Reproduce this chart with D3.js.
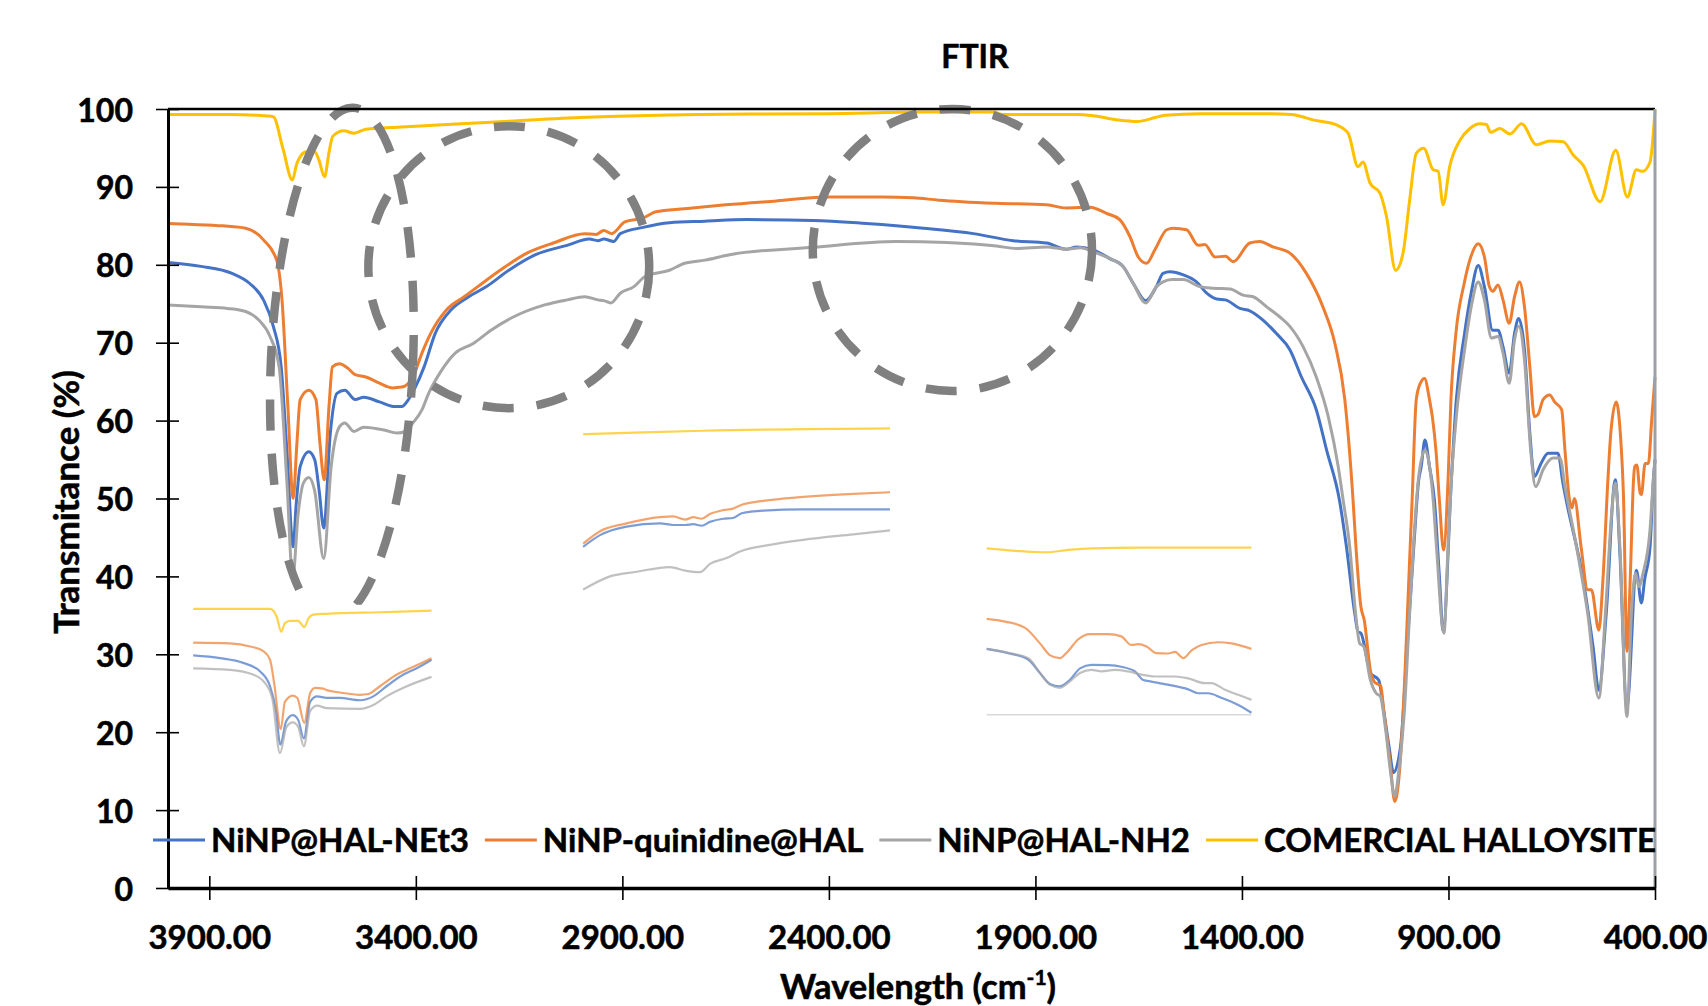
<!DOCTYPE html>
<html>
<head>
<meta charset="utf-8">
<title>FTIR</title>
<script src="https://d3js.org/d3.v7.min.js"></script>
<style>
  body { margin: 0; background: #fff; }
  svg { display: block; font-family: Lato, "Open Sans", sans-serif; font-weight: 700; }
  svg text { stroke: #000; stroke-width: 0.55px; paint-order: stroke; }
</style>
</head>
<body>
<svg id="chart" width="1708" height="1006"></svg>
<script>
"use strict";

//Series names and colours, in the legend order
var seriesNames = ["NiNP@HAL-NEt3", "NiNP-quinidine@HAL", "NiNP@HAL-NH2", "COMERCIAL HALLOYSITE"];
var seriesColors = ["#4472C4", "#ED7D31", "#A5A5A5", "#FFC000"];

//Tick values of both axes
var xTicks = [3900, 3400, 2900, 2400, 1900, 1400, 900, 400];
var yTicks = [0, 10, 20, 30, 40, 50, 60, 70, 80, 90, 100];

//Spectra: [wavenumber, transmittance %]
var net3Data = [[4000,80.3],[3920,79.8],[3845,78.9],[3802,77.6],[3769,75.5],[3745,72.1],[3726,66.9],[3712,56],[3697,43.8],[3690,49],[3680,54.1],[3659,56.0],[3645,55.0],[3634,51],[3623,46.2],[3607,58.4],[3591,63.5],[3572,63.9],[3547,62.7],[3526,63.0],[3488,62.4],[3450,61.8],[3434,61.8],[3418,62.7],[3402,64.2],[3380,66.9],[3353,71.2],[3315,74.2],[3272,75.9],[3229,77.2],[3175,79.3],[3110,81.3],[3034,82.5],[2980,83.3],[2959,83.1],[2945,83.3],[2921,83.0],[2905,84.0],[2850,84.8],[2786,85.4],[2700,85.6],[2599,85.8],[2438,85.7],[2309,85.3],[2171,84.7],[2050,84.0],[1954,83.1],[1873,82.8],[1825,82.0],[1800,82.3],[1760,81.9],[1720,80.8],[1688,79.8],[1663,77.6],[1633,75.4],[1607,77.2],[1591,78.9],[1574,79.1],[1542,78.7],[1510,77.8],[1486,76.4],[1461,75.6],[1440,75.5],[1405,74.4],[1381,74.1],[1349,72.9],[1317,71.2],[1284,69.1],[1256,65.6],[1220,61.4],[1195,56.2],[1164,49.8],[1147,43.8],[1127,35.3],[1119,32.9],[1112,32.7],[1089,27.6],[1069,26.7],[1056,22.5],[1044,18.2],[1033,14.8],[1016,18.2],[1000,31.0],[984,43.8],[972,52.4],[966,54.1],[957,57.5],[946,54.1],[934,49.8],[922,40],[913,32.9],[893,52.4],[881,62.7],[861,71.2],[845,76.4],[828,79.9],[813,77.2],[793,71.6],[780,71.6],[768,69.5],[753,66.1],[740,71.2],[730,73.1],[716,69.1],[703,58.4],[692,52.8],[676,54.5],[659,55.8],[635,55.8],[623,52.0],[615,49.8],[574,39.6],[550,31.0],[536,25.4],[518,35.3],[496,52.4],[485,43],[468,23.3],[445,40.8],[433,36.6],[425,39.6],[412,43.8],[404,52.4],[400,55]];

var quinData = [[4000,85.3],[3950,85.2],[3867,85.0],[3812,84.7],[3769,83.2],[3737,80.6],[3724,75.5],[3710,62],[3697,50.0],[3688,57],[3680,62.7],[3659,63.9],[3642,62.7],[3632,57],[3622,52.4],[3610,62],[3602,66.9],[3585,67.3],[3564,66.7],[3547,65.9],[3521,65.6],[3488,64.8],[3456,64.2],[3434,64.3],[3407,65.6],[3385,68.7],[3364,71.2],[3326,74.2],[3283,75.9],[3250,77.2],[3196,79.3],[3131,81.5],[3067,82.8],[2991,84.0],[2964,83.9],[2945,84.4],[2926,84.0],[2894,85.5],[2850,86.0],[2819,86.8],[2749,87.2],[2650,87.7],[2527,88.2],[2398,88.7],[2270,88.7],[2196,88.6],[2134,88.3],[1994,87.9],[1873,87.7],[1825,87.3],[1768,87.4],[1728,86.6],[1696,85.8],[1671,83.6],[1651,81.0],[1631,80.2],[1611,81.9],[1582,84.5],[1566,84.7],[1534,84.5],[1506,82.5],[1490,82.6],[1465,81.0],[1440,81.1],[1421,80.4],[1381,82.8],[1357,83.0],[1325,82.3],[1284,81.5],[1244,78.9],[1204,74.6],[1175,69.9],[1151,62.7],[1131,49.8],[1124,43.8],[1112,36.1],[1104,34.4],[1088,27.6],[1080,26.5],[1064,25.9],[1056,22.5],[1041,16.0],[1030,11.1],[1017,16.0],[1006,26.7],[996,39.6],[988,49.8],[978,62.7],[968,64.8],[958,65.4],[946,62.7],[938,60.1],[930,56],[922,49.8],[912,43.4],[901,52.4],[894,62.7],[882,71.2],[862,77.6],[846,81.0],[828,82.7],[813,81.0],[801,77.2],[793,76.6],[780,77.4],[768,75.5],[753,72.5],[740,75.9],[728,77.8],[716,74.6],[703,66.9],[692,60.5],[683,60.8],[671,62.7],[655,63.3],[643,62.4],[626,61.4],[618,56.2],[607,49.8],[601,48.8],[595,50.0],[579,43.8],[563,38.3],[554,38.3],[536,33.1],[526,39.6],[514,52.4],[507,58.4],[494,62.4],[484,58.4],[476,49.8],[468,30.4],[460,39.6],[452,52.4],[449,54.1],[444,54.3],[436,50.7],[433,50.5],[424,54.5],[416,54.5],[408,60.1],[400,65.6]];

var nh2Data = [[4000,74.85],[3920,74.6],[3856,74.4],[3812,74.0],[3780,72.9],[3753,70.8],[3731,66.9],[3712,52],[3698,39.8],[3685,48],[3672,52],[3659,52.7],[3645,51],[3623,42.3],[3605,54.1],[3585,59.2],[3572,59.7],[3550,58.6],[3526,59.15],[3477,58.8],[3445,58.4],[3425,58.6],[3407,59.7],[3385,61.4],[3369,63.5],[3342,66.1],[3304,68.7],[3261,69.9],[3218,71.6],[3164,73.3],[3088,74.85],[3034,75.5],[2991,75.9],[2959,75.5],[2945,75.4],[2928,75.1],[2905,76.35],[2872,77.2],[2845,78.5],[2786,79.3],[2749,80.2],[2700,80.6],[2640,81.3],[2438,82.25],[2236,83.0],[2115,82.85],[1994,82.4],[1946,82.1],[1873,82.3],[1825,82.0],[1792,82.2],[1752,81.5],[1712,80.6],[1688,79.8],[1663,77.6],[1633,75.1],[1607,77.2],[1591,77.8],[1570,78.1],[1542,78.1],[1502,77.2],[1470,77.0],[1429,76.9],[1397,76.1],[1373,75.9],[1340,74.6],[1308,73.3],[1284,72.1],[1252,69.5],[1220,65.6],[1191,60.5],[1167,54.1],[1155,49.8],[1139,43.8],[1125,35.3],[1115,31.4],[1105,31.0],[1089,26.7],[1075,25.0],[1065,24.6],[1052,20.3],[1041,15.2],[1030,11.75],[1020,15.2],[1007,22.5],[994,35.3],[973,52.4],[957,56.2],[937,49.8],[929,43.8],[911,32.7],[901,43.8],[893,52.4],[881,60.5],[861,69.1],[845,74.6],[828,77.8],[813,75.5],[796,70.6],[780,70.8],[768,68.7],[753,64.8],[740,70.4],[730,72.1],[716,67.8],[701,56.2],[689,51.5],[671,53.7],[647,55.2],[630,55.2],[618,51.5],[590,43.8],[563,35.3],[536,24.4],[520,35.3],[505,48.1],[496,52.0],[485,43.8],[468,22.0],[457,35.3],[447,40.4],[439,38.7],[429,40.4],[412,46.0],[404,52.4],[400,55]];

var halData = [[4000,99.3],[3850,99.3],[3760,99.1],[3745,99.0],[3722,95],[3699,90.9],[3688,93],[3677,94.1],[3665,94.5],[3645,94.5],[3635,93.5],[3621,91.3],[3610,94.5],[3601,96.5],[3574,97.2],[3550,96.9],[3521,97.4],[3434,97.7],[3218,98.3],[3003,98.9],[2712,99.3],[2400,99.4],[2168,99.6],[2000,99.6],[1980,99.3],[1800,99.3],[1756,99.1],[1700,98.6],[1654,98.4],[1610,98.9],[1586,99.2],[1500,99.4],[1350,99.4],[1280,99.3],[1268,99.2],[1228,98.6],[1171,97.95],[1143,96.9],[1119,92.6],[1107,93.2],[1090,90.5],[1066,89.2],[1050,86.2],[1028,79.3],[1010,81.5],[994,88.3],[978,94.3],[960,94.96],[937,92.2],[925,92.0],[913,87.7],[897,92.6],[872,96.0],[848,97.5],[824,98.1],[808,98.0],[798,97.0],[776,97.5],[751,96.8],[723,98.1],[687,95.4],[655,95.9],[622,95.8],[598,94.1],[574,92.8],[533,88.1],[495,94.7],[467,88.7],[445,92.2],[430,92.0],[412,93.2],[400,99.9]];

//Pasted close-up copies, read in the units of the main axes
//Close-up A: O-H region
var net3InsetA = [[3939,29.85],[3874,29.5],[3818,28.9],[3777,27.8],[3753,25.9],[3739,22.9],[3728,18.4],[3714,21.4],[3698,22.2],[3685,21.6],[3671,19.2],[3656,23.9],[3639,24.6],[3616,24.4],[3584,24.4],[3535,24.1],[3503,24.6],[3471,25.9],[3430,27.4],[3398,28.2],[3362,29.3]];
var quinInsetA = [[3939,31.5],[3850,31.4],[3801,31.0],[3769,30.4],[3753,29.3],[3743,26.3],[3727,20.4],[3717,23.9],[3698,24.7],[3687,24.4],[3670,21.2],[3656,25.0],[3644,25.7],[3624,25.6],[3616,25.4],[3584,25.1],[3535,24.8],[3515,24.9],[3487,25.9],[3446,27.4],[3414,28.2],[3362,29.5]];
var nh2InsetA = [[3939,28.2],[3850,28.0],[3794,27.4],[3765,26.3],[3747,24.2],[3729,17.3],[3713,20.7],[3698,21.25],[3685,20.7],[3671,18.2],[3656,22.7],[3639,23.4],[3616,23.1],[3535,23.0],[3503,23.5],[3471,24.6],[3430,25.7],[3362,27.1]];
var halInsetA = [[3939,35.84],[3753,35.84],[3737,34.85],[3726,32.9],[3717,34.0],[3705,34.3],[3685,34.3],[3670,33.5],[3660,34.6],[3648,35.1],[3616,35.2],[3487,35.4],[3362,35.6]];

//Close-up B: C-H region
var net3InsetB = [[2995,43.8],[2954,45.3],[2890,46.4],[2809,46.8],[2777,46.6],[2748,46.6],[2728,46.7],[2708,46.5],[2688,47.0],[2656,47.4],[2632,47.5],[2611,48.1],[2559,48.45],[2462,48.6],[2252,48.6]];
var quinInsetB = [[2995,44.2],[2954,45.8],[2890,46.8],[2809,47.6],[2777,47.7],[2748,47.3],[2728,47.6],[2708,47.4],[2688,48.0],[2656,48.5],[2632,48.7],[2611,49.2],[2559,49.7],[2462,50.2],[2341,50.6],[2252,50.8]];
var nh2InsetB = [[2995,38.3],[2930,40.0],[2865,40.6],[2785,41.2],[2748,40.75],[2712,40.55],[2688,41.6],[2648,42.35],[2615,43.2],[2543,44.05],[2462,44.7],[2341,45.4],[2252,45.9]];
var halInsetB = [[2995,58.25],[2850,58.5],[2704,58.7],[2252,59.0]];

//Close-up C: 2000-1400 region
var net3InsetC = [[2018,30.7],[1966,30.15],[1917,29.3],[1889,27.6],[1865,26.2],[1841,25.9],[1817,26.7],[1792,28.2],[1764,28.65],[1724,28.6],[1692,28.4],[1659,27.8],[1639,26.7],[1619,26.5],[1579,26.1],[1530,25.5],[1506,25.0],[1482,25.0],[1449,24.4],[1409,23.5],[1377,22.5]];
var quinInsetC = [[2018,34.55],[1974,34.2],[1925,33.4],[1889,31.4],[1865,29.9],[1841,29.5],[1821,30.4],[1797,31.9],[1768,32.6],[1724,32.6],[1692,32.3],[1668,31.2],[1651,31.3],[1631,31.0],[1607,30.15],[1579,30.1],[1562,30.3],[1542,29.5],[1522,30.5],[1498,31.2],[1458,31.55],[1425,31.4],[1377,30.7]];
var nh2InsetC = [[2018,30.7],[1966,30.2],[1917,29.5],[1889,27.6],[1865,26.1],[1841,25.7],[1817,26.5],[1792,27.6],[1764,28.0],[1740,27.8],[1708,28.0],[1676,27.8],[1643,27.4],[1611,27.15],[1562,27.15],[1530,26.9],[1490,26.3],[1474,26.3],[1441,25.45],[1409,24.8],[1377,24.15]];
var halInsetC = [[2018,43.6],[1925,43.2],[1873,43.1],[1821,43.4],[1764,43.6],[1643,43.7],[1377,43.7]];
var baseInsetC = [[2018,22.25],[1377,22.25]];

//Dashed ellipses marking the regions: centre, half sizes in axis units, tilt
var ringWn = [3579, 3175, 2101];
var ringT = [67.3, 79.7, 81.9];
var ringHalfWn = [172, 340, 338];
var ringHalfT = [32.9, 18.1, 18.1];
var ringTilt = [2.5, 0, 0];

var mainSeries = [net3Data, quinData, nh2Data, halData];
var insets = [
	[net3InsetA, quinInsetA, nh2InsetA, halInsetA],
	[net3InsetB, quinInsetB, nh2InsetB, halInsetB],
	[net3InsetC, quinInsetC, nh2InsetC, halInsetC]
];

var svg = d3.select("#chart"),
    plotLeft = 168, plotRight = 1655, plotTop = 109, plotBottom = 888;

var x = d3.scaleLinear().domain([4000, 400]).range([plotLeft, plotRight]);
var y = d3.scaleLinear().domain([0, 100]).range([plotBottom, plotTop]);

var line = d3.line()
	.x(function(d) { return x(d[0]); })
	.y(function(d) { return y(d[1]); })
	.curve(d3.curveMonotoneX);

//Main spectra
svg.append("g")
	.selectAll("path")
	.data(mainSeries)
	.enter().append("path")
	  .attr("d", line)
	  .attr("fill", "none")
	  .attr("stroke", function(d, i) { return seriesColors[i]; })
	  .attr("stroke-width", 3)
	  .attr("stroke-linejoin", "round");

//Dashed ellipses
svg.append("g")
	.selectAll("ellipse")
	.data(ringWn)
	.enter().append("ellipse")
	  .attr("cx", function(d) { return x(d); })
	  .attr("cy", function(d, i) { return y(ringT[i]); })
	  .attr("rx", function(d, i) { return Math.abs(x(d + ringHalfWn[i]) - x(d)); })
	  .attr("ry", function(d, i) { return Math.abs(y(ringT[i] + ringHalfT[i]) - y(ringT[i])); })
	  .attr("transform", function(d, i) {
		  return "rotate(" + ringTilt[i] + "," + x(d) + "," + y(ringT[i]) + ")";
	  })
	  .attr("fill", "none")
	  .attr("stroke", "#808080")
	  .attr("stroke-width", 8.5)
	  .attr("stroke-dasharray", "31 23");

//Close-ups, each on a white patch
insets.forEach(function(set, k) {
	var all = [].concat.apply([], set);
	var xs = d3.extent(all, function(d) { return x(d[0]); });
	var ys = d3.extent(all, function(d) { return y(d[1]); });
	var g = svg.append("g");
	g.append("rect")
		.attr("x", xs[0] - 4).attr("y", ys[0] - 4)
		.attr("width", xs[1] - xs[0] + 8).attr("height", ys[1] - ys[0] + 10)
		.attr("fill", "#fff");
	if (k == 2) {
		g.append("path")
			.attr("d", line(baseInsetC))
			.attr("fill", "none")
			.attr("stroke", "#d9d9d9")
			.attr("stroke-width", 1.5);
	}
	g.selectAll("path.s")
		.data(set)
		.enter().append("path")
		  .attr("class", "s")
		  .attr("d", line)
		  .attr("fill", "none")
		  .attr("stroke", function(d, i) { return seriesColors[i]; })
		  .attr("stroke-opacity", 0.7)
		  .attr("stroke-width", 2.2);
});

//Frame: black top, grey right
svg.append("line")
	.attr("x1", x(4000)).attr("x2", x(400))
	.attr("y1", y(100)).attr("y2", y(100))
	.attr("stroke", "#000").attr("stroke-width", 2.5);
svg.append("line")
	.attr("x1", x(400)).attr("x2", x(400))
	.attr("y1", y(100)).attr("y2", y(0))
	.attr("stroke", "#9ba1a6").attr("stroke-width", 3);

//y axis
var yAxis = svg.append("g")
	.attr("transform", "translate(" + plotLeft + ",0)")
	.call(d3.axisLeft(y).tickValues(yTicks).tickSizeOuter(0).tickSizeInner(12).tickPadding(23));
yAxis.select(".domain").attr("stroke-width", 3);
yAxis.selectAll(".tick line").attr("x1", 11).attr("x2", -12).attr("stroke-width", 1.6);
yAxis.selectAll(".tick text")
	.attr("dy", 12)
	.attr("font-size", 32)
	.attr("font-family", "Lato")
	.attr("font-weight", 700);

//x axis
var xAxis = svg.append("g")
	.attr("transform", "translate(0," + plotBottom + ")")
	.call(d3.axisBottom(x).tickValues(xTicks).tickFormat(d3.format(".2f")).tickSizeOuter(0).tickSizeInner(12));
xAxis.select(".domain").attr("stroke-width", 3.3);
xAxis.selectAll(".tick line").attr("y1", -12).attr("y2", 12).attr("stroke-width", 1.6);
xAxis.selectAll(".tick text")
	.attr("y", 61)
	.attr("dy", 0)
	.attr("font-size", 33)
	.attr("font-family", "Lato")
	.attr("font-weight", 700);

//Titles
svg.append("text")
	.attr("x", 975).attr("y", 68)
	.attr("text-anchor", "middle")
	.attr("font-size", 32)
	.text("FTIR");

svg.append("text")
	.attr("transform", "translate(79,502) rotate(-90)")
	.attr("text-anchor", "middle")
	.attr("font-size", 35)
	.text("Transmitance (%)");

var xTitle = svg.append("text")
	.attr("x", 918).attr("y", 999)
	.attr("text-anchor", "middle")
	.attr("font-size", 34.5);
xTitle.append("tspan").text("Wavelength (cm");
xTitle.append("tspan").attr("font-size", 21).attr("dy", -14).text("-1");
xTitle.append("tspan").attr("dy", 14).text(")");

//Legend inside the plot
var legend = svg.append("g");
var lx = 153;
seriesNames.forEach(function(name, i) {
	legend.append("line")
		.attr("x1", lx).attr("x2", lx + 52)
		.attr("y1", 840).attr("y2", 840)
		.attr("stroke", seriesColors[i]).attr("stroke-width", 3);
	var t = legend.append("text")
		.attr("x", lx + 58).attr("y", 852)
		.attr("font-size", 33)
		.text(name);
	lx = lx + 58 + t.node().getComputedTextLength() + 16;
});
</script>
</body>
</html>
